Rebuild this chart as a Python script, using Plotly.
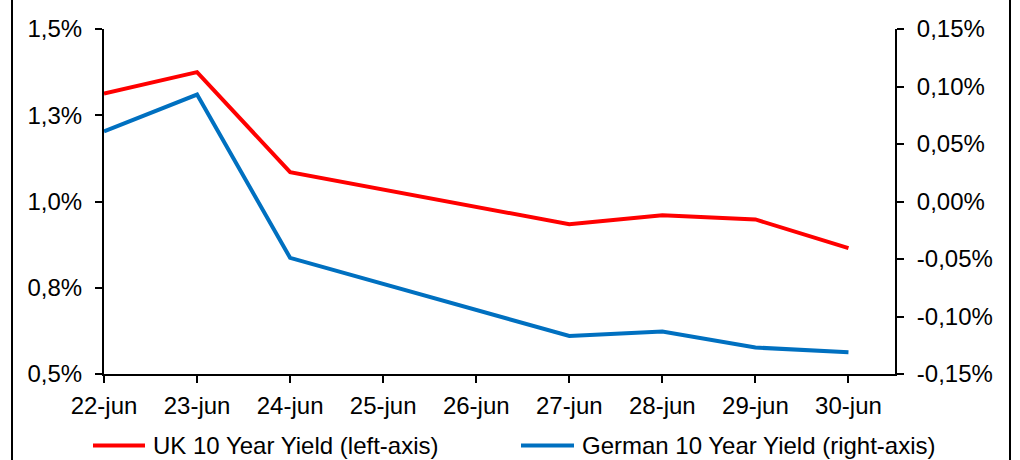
import plotly.graph_objects as go

# Daily closes, 22-30 June 2016 (no weekend quotes)
dates = ["2016-06-22", "2016-06-23", "2016-06-24", "2016-06-27",
         "2016-06-28", "2016-06-29", "2016-06-30"]
uk_10y = [1.313, 1.375, 1.085, 0.934, 0.960, 0.948, 0.865]
de_10y = [0.061, 0.093, -0.049, -0.117, -0.113, -0.127, -0.131]

# Axis ticks
x_tick_dates = ["2016-06-22", "2016-06-23", "2016-06-24", "2016-06-25", "2016-06-26",
                "2016-06-27", "2016-06-28", "2016-06-29", "2016-06-30"]
x_tick_labels = ["22-jun", "23-jun", "24-jun", "25-jun", "26-jun",
                 "27-jun", "28-jun", "29-jun", "30-jun"]
left_ticks = [0.5, 0.75, 1.0, 1.25, 1.5]
left_labels = ["0,5%", "0,8%", "1,0%", "1,3%", "1,5%"]
right_ticks = [-0.15, -0.10, -0.05, 0.0, 0.05, 0.10, 0.15]
right_labels = ["-0,15%", "-0,10%", "-0,05%", "0,00%", "0,05%", "0,10%", "0,15%"]

series_names = ["UK 10 Year Yield (left-axis)", "German 10 Year Yield (right-axis)"]
RED = "#FF0000"
BLUE = "#0070C0"
FONT = dict(family="Liberation Sans, Arial, sans-serif", size=24, color="black")

W, H = 1020, 460
L, R, T, B = 104, 125, 29, 86
pw = W - L - R
ph = H - T - B


def px_x(p):
    return (p - L) / pw


def px_y(p):
    return (H - B - p) / ph


fig = go.Figure()
fig.add_trace(go.Scatter(x=dates, y=uk_10y, mode="lines", name=series_names[0],
                         line=dict(color=RED, width=4), yaxis="y"))
fig.add_trace(go.Scatter(x=dates, y=de_10y, mode="lines", name=series_names[1],
                         line=dict(color=BLUE, width=4), yaxis="y2"))

axis_common = dict(showgrid=False, zeroline=False, showline=True, linecolor="black",
                   linewidth=2, ticks="outside", ticklen=7, tickwidth=2,
                   tickcolor="black", tickfont=FONT)

fig.update_layout(
    width=W, height=H,
    margin=dict(l=L, r=R, t=T, b=B),
    paper_bgcolor="white", plot_bgcolor="white",
    showlegend=False,
    font=FONT,
    xaxis=dict(type="date", range=["2016-06-22", "2016-06-30 12:00"],
               tickvals=x_tick_dates, ticktext=x_tick_labels,
               ticklabelstandoff=2, **axis_common),
    yaxis=dict(range=[0.5, 1.5], tickvals=left_ticks, ticktext=left_labels,
               ticklabelstandoff=8, **axis_common),
    yaxis2=dict(range=[-0.15, 0.15], tickvals=right_ticks, ticktext=right_labels,
                overlaying="y", side="right", anchor="x",
                ticklabelstandoff=8, **axis_common),
)

# Outer frame edges
for xp in (12, 1010):
    fig.add_shape(type="line", xref="paper", yref="paper",
                  x0=px_x(xp), x1=px_x(xp), y0=px_y(H + 5), y1=px_y(-5),
                  line=dict(color="black", width=2))

# Legend drawn below the plot
legend_y = px_y(445.5)
for (x0, x1, tx), color, name in zip([(93, 145, 151), (521, 574, 580)],
                                     [RED, BLUE], series_names):
    fig.add_shape(type="line", xref="paper", yref="paper",
                  x0=px_x(x0), x1=px_x(x1), y0=legend_y, y1=legend_y,
                  line=dict(color=color, width=4))
    fig.add_annotation(xref="paper", yref="paper", x=px_x(tx), y=legend_y,
                       xanchor="left", yanchor="middle", text=name,
                       showarrow=False, font=FONT)

fig.write_html("out.html")
